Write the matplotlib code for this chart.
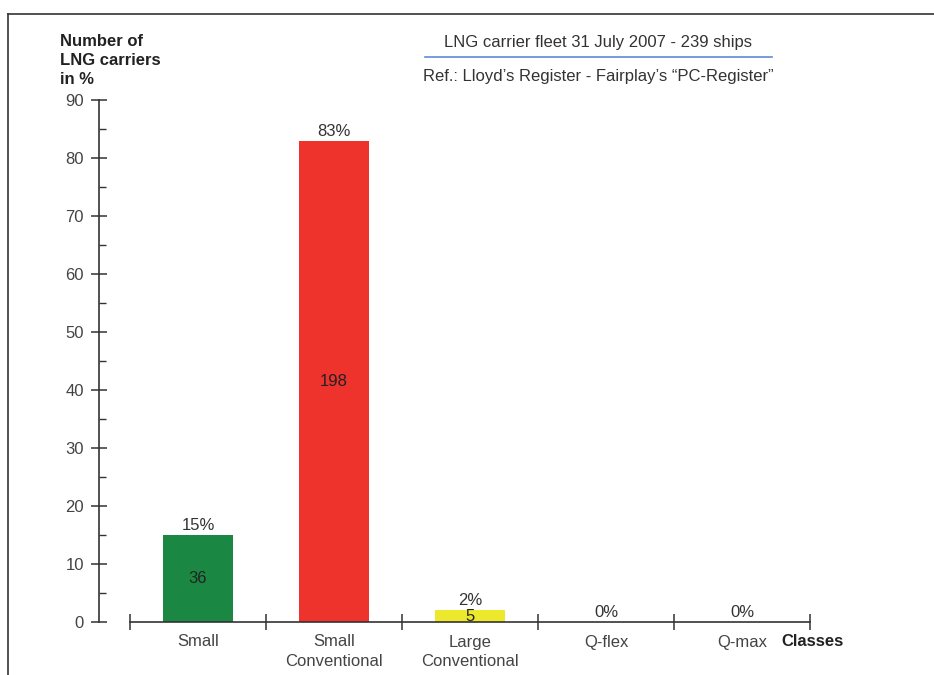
import matplotlib.pyplot as plt
from matplotlib.lines import Line2D

plt.rcParams['font.family'] = ['Liberation Sans', 'DejaVu Sans']

# data
classes = ["Small", "Small\nConventional", "Large\nConventional", "Q-flex", "Q-max"]
share_pct = [15, 83, 2, 0, 0]
ship_count = [36, 198, 5, 0, 0]
bar_colors = ["#1a8842", "#ee322c", "#ece92c", "#cccccc", "#cccccc"]

W, H = 934, 675
fig = plt.figure(figsize=(W / 100, H / 100), dpi=100)

def fx(px):
    return px / W

def fy(py):
    return 1 - py / H

# axes placed so that 0 -> y=622px, 90 -> y=100px
ax = fig.add_axes([fx(98.5), fy(622), fx(810) - fx(98.5), fy(100) - fy(622)])
ax.set_xlim(-0.732, 4.5)
ax.set_ylim(0, 90)

x = list(range(len(classes)))
ax.bar(x, share_pct, width=0.51, color=bar_colors, zorder=2)

axc = "#333333"
fs = 12
for xi, p, n in zip(x, share_pct, ship_count):
    ax.annotate(f"{p}%", (xi, p), xytext=(0, 1.5), textcoords="offset points",
                ha="center", va="bottom", fontsize=fs, color=axc)
    if n > 0:
        ax.text(xi, p / 2, str(n), ha="center", va="center", fontsize=fs, color="#222222")

for s in ["top", "right"]:
    ax.spines[s].set_visible(False)
ax.spines["left"].set_bounds(0, 90)
ax.spines["bottom"].set_bounds(-0.5, 4.5)
for s in ["left", "bottom"]:
    ax.spines[s].set_color(axc)
    ax.spines[s].set_linewidth(1.2)

ax.set_yticks(range(0, 91, 10))
ax.set_yticks(range(5, 90, 10), minor=True)
ax.tick_params(axis="y", which="major", direction="inout", length=11, width=1.1,
               color=axc, labelsize=fs, labelcolor="#444444", pad=5)
ax.tick_params(axis="y", which="minor", direction="in", length=5, width=1.0, color=axc)

ax.set_xticks([i - 0.5 for i in range(len(classes) + 1)])
ax.set_xticklabels([])
ax.set_xticks(x, minor=True)
ax.set_xticklabels(classes, minor=True)
ax.tick_params(axis="x", which="major", direction="inout", length=12, width=1.1, color=axc)
ax.tick_params(axis="x", which="minor", length=0, labelsize=fs, labelcolor="#444444", pad=9)
for t in ax.get_xticklabels(minor=True):
    t.set_linespacing(1.35)

# y axis title and x axis title
fig.text(fx(60), fy(34), "Number of\nLNG carriers\nin %", ha="left", va="top",
         fontsize=fs, fontweight="bold", color="#222222", linespacing=1.35)
fig.text(fx(781), fy(641), "Classes", ha="left", va="center",
         fontsize=fs, fontweight="bold", color="#222222")

# header
fig.text(fx(598), fy(42), "LNG carrier fleet 31 July 2007 - 239 ships", ha="center",
         va="center", fontsize=fs, color=axc)
fig.add_artist(Line2D([fx(425), fx(772)], [fy(57), fy(57)], color="#5b8ed0", lw=1.2))
fig.text(fx(598), fy(76), "Ref.: Lloyd\u2019s Register - Fairplay\u2019s \u201cPC-Register\u201d",
         ha="center", va="center", fontsize=fs, color=axc)

# frame lines
fig.add_artist(Line2D([fx(8), 1], [fy(13.5), fy(13.5)], color=axc, lw=1.2))
fig.add_artist(Line2D([fx(8), fx(8)], [fy(13.5), 0], color=axc, lw=1.2))

fig.savefig("out.png", dpi=100)
